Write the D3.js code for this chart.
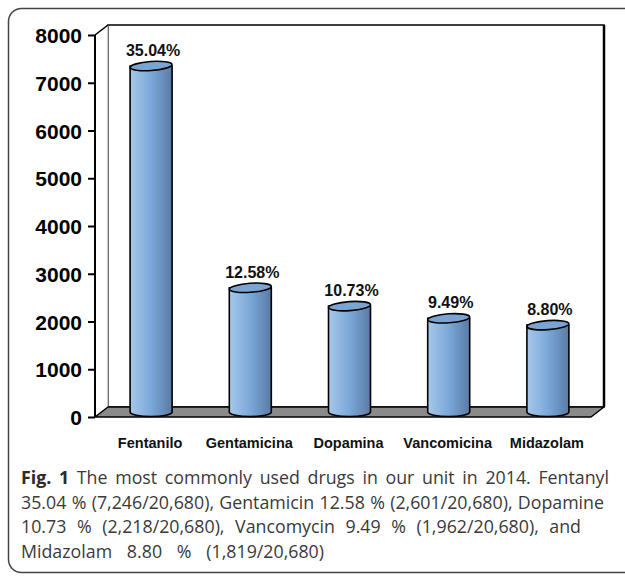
<!DOCTYPE html>
<html><head><meta charset="utf-8">
<script src="https://cdn.jsdelivr.net/npm/d3@7"></script>
<style>body{margin:0;background:#fff}svg{display:block}</style>
</head><body>
<script>
const categories = ["Fentanilo","Gentamicina","Dopamina","Vancomicina","Midazolam"];
const values = [7246, 2601, 2218, 1962, 1819];
const pctLabels = ["35.04%","12.58%","10.73%","9.49%","8.80%"];
const yTicks = [0,1000,2000,3000,4000,5000,6000,7000,8000];
const captionBold = "Fig. 1";
const captionLines = [
  " The most commonly used drugs in our unit in 2014. Fentanyl",
  "35.04 % (7,246/20,680), Gentamicin 12.58 % (2,601/20,680), Dopamine",
  "10.73 % (2,218/20,680), Vancomycin 9.49 % (1,962/20,680), and",
  "Midazolam 8.80 % (1,819/20,680)"
];
const captionLineEnds = [609, 604, 581, 324];

const W=625,H=576;
const svg=d3.select("body").append("svg").attr("width",W).attr("height",H);
const defs=svg.append("defs");
const g1=defs.append("linearGradient").attr("id","cyl").attr("x1","0").attr("x2","1").attr("y1","0").attr("y2","0");
g1.append("stop").attr("offset","0").attr("stop-color","#a6c8ea");
g1.append("stop").attr("offset","0.5").attr("stop-color","#7ba8d9");
g1.append("stop").attr("offset","1").attr("stop-color","#5a7aa4");

// outer frame
svg.append("rect").attr("x",8.5).attr("y",8.5).attr("width",640).attr("height",564)
  .attr("rx",13).attr("fill","#fff").attr("stroke","#444").attr("stroke-width",1.5);

const x0=95, x1=591, yBase=417, yTop=35, dx=13, dy=10;
const x=d3.scaleBand().domain(categories).range([x0,x1]);
const y=d3.scaleLinear().domain([0,8000]).range([yBase,yTop]);

// back wall
svg.append("rect").attr("x",x0+dx).attr("y",yTop-dy).attr("width",x1-x0).attr("height",yBase-yTop)
  .attr("fill","#fff").attr("stroke","#000").attr("stroke-width",1.5);
svg.append("line").attr("x1",x1+dx).attr("x2",x1+dx).attr("y1",yTop-dy).attr("y2",yBase-dy)
  .attr("stroke","#000").attr("stroke-width",2.5);
// side wall
svg.append("path").attr("d",`M${x0},${yTop}L${x0+dx},${yTop-dy}L${x0+dx},${yBase-dy}L${x0},${yBase}Z`)
  .attr("fill","#fff").attr("stroke","#999").attr("stroke-width",1);
svg.append("line").attr("x1",x0).attr("y1",yTop).attr("x2",x0+dx).attr("y2",yTop-dy).attr("stroke","#000").attr("stroke-width",1.5);
// floor
svg.append("path").attr("d",`M${x0},${yBase}L${x0+dx},${yBase-dy}L${x1+dx},${yBase-dy}L${x1},${yBase}Z`)
  .attr("fill","#8a8a8a").attr("stroke","#000").attr("stroke-width",1.5).attr("stroke-linejoin","round");

// y axis
const ya=svg.append("g").attr("transform",`translate(${x0},0)`)
  .call(d3.axisLeft(y).tickValues(yTicks).tickSize(7).tickPadding(6).tickFormat(d3.format("d")));
ya.select(".domain").attr("stroke","#000").attr("stroke-width",2).attr("d",`M0,${yTop}V${yBase}`);
ya.selectAll(".tick line").attr("stroke","#000").attr("stroke-width",2);
ya.selectAll(".tick text").attr("font-family","Liberation Sans, Arial, sans-serif").attr("font-weight","bold")
  .attr("font-size",21).attr("fill","#000").attr("dy","0.36em");

// cylinders
const bw=42, ry=4.5;
const bars=svg.append("g");
categories.forEach((c,i)=>{
  const cx=x(c)+x.bandwidth()/2+dx/2;
  const yb=yBase-dy/2, yt=y(values[i])-dy/2;
  const l=cx-bw/2, r=cx+bw/2;
  bars.append("path").attr("d",`M${l},${yt}L${l},${yb}A${bw/2},${ry} 0 0 0 ${r},${yb}L${r},${yt}Z`)
    .attr("fill","url(#cyl)").attr("stroke","#000").attr("stroke-width",1.6);
  bars.append("ellipse").attr("cx",cx).attr("cy",yt).attr("rx",bw/2).attr("ry",ry)
    .attr("transform",`rotate(-4,${cx},${yt})`)
    .attr("fill","#7aa4d2").attr("stroke","#000").attr("stroke-width",1.6);
  bars.append("text").attr("x",cx+2).attr("y",yt-10).attr("text-anchor","middle")
    .attr("font-family","Liberation Sans, Arial, sans-serif").attr("font-weight","bold").attr("font-size",16)
    .attr("fill","#111").text(pctLabels[i]);
  svg.append("text").attr("x",cx-1).attr("y",448).attr("text-anchor","middle")
    .attr("font-family","Liberation Sans, Arial, sans-serif").attr("font-weight","bold").attr("font-size",14.5)
    .attr("fill","#111").text(c);
});

// caption
const cx0=21;
const cap=svg.append("g").attr("font-family","Open Sans, sans-serif").attr("font-size",17.8).attr("fill","#3a3a3a");
captionLines.forEach((t,i)=>{
  const tx=cap.append("text").attr("x",cx0).attr("y",484+i*24.5);
  if(i===0){ tx.append("tspan").attr("font-weight","bold").attr("fill","#2a2a2a").text(captionBold); }
  tx.append("tspan").text(t);
  const full=(i===0?captionBold:"")+t;
  const spaces=(full.trim().match(/ /g)||[]).length;
  const len=tx.node().getComputedTextLength();
  const target=captionLineEnds[i]-cx0;
  if(spaces>0) tx.attr("word-spacing",(target-len)/spaces);
});
</script>
</body></html>
